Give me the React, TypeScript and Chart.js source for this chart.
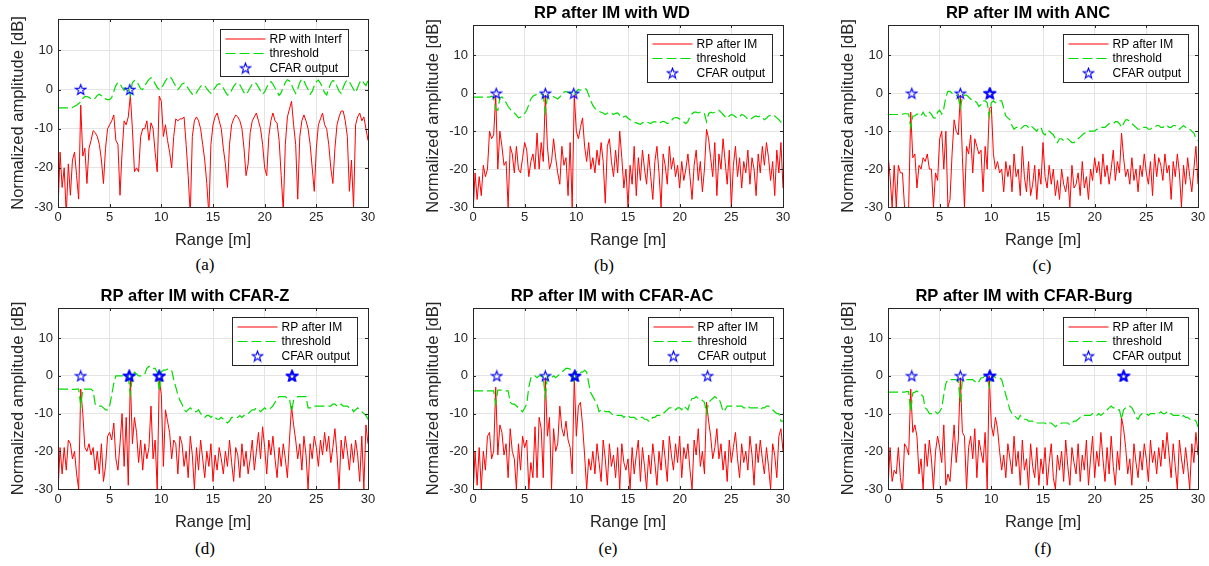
import React, { useEffect, useRef } from "react";
import { Chart, registerables } from "chart.js";

Chart.register(...registerables);

// ---------------- DATA ----------------
// Range sampling step of the profiles [m]; profiles run 0 .. 30 m
const RANGE_STEP = 0.2;

const RP_A = [
  -31, -16, -25, -20, -32, -19, -27, -18, -16, -22,
  -28, -4, -17, -15, -24, -15, -13, -10.5, -11, -12,
  -14, -18, -24, -15, -10, -9, -8, -6.5, -13, -14,
  -27, -16, -8, -9, -7, -1.5, -10, -21, -20, -21,
  -12, -10, -10, -8, -13, -8.5, -10, -16, -21, -1.7,
  -3, -12, -9, -13, -16, -20, -12, -7.5, -8, -7.5,
  -7.5, -7, -14, -22, -32, -12, -8, -7, -8, -10,
  -14, -18, -24, -32, -14, -9, -7, -6, -8, -10,
  -15, -19, -25, -14, -9, -7.5, -6.5, -7, -8, -10,
  -15, -22, -19, -11, -8, -7, -6, -8, -10, -14,
  -20, -22, -12, -8, -6, -8, -8.5, -13, -22, -31,
  -14, -7, -5, -3, -9, -14, -28, -12, -8, -6.5,
  -8, -10, -14, -20, -26, -15, -9, -7.5, -6, -9,
  -10, -14, -20, -24, -15, -9, -7, -5.5, -5.5, -8,
  -12, -26, -18, -30, -9, -7, -6, -8, -7, -10,
  -13,
];
const TH_A = [
  -4.7, -4.7, -4.7, -4.7, -4.7, -4.7, -4.7, -4.6, -4.3, -4.0,
  -3.6, -3.2, -2.3, -1.8, -1.8, -2.0, -2.4, -2.6, -2.2, -1.5,
  -1.2, -1.6, -2.2, -2.4, -2.6, -2.6, -2.0, -0.5, 1.0, 1.8,
  1.5, 0.5, -0.2, 0.8, 0.5, -1.5, 1.8, 2.3, 2.2, 1.2,
  0.2, 0.0, 1.0, 1.8, 2.6, 3.0, 2.5, 1.5, 0.5, 0.0,
  0.2, 1.2, 2.2, 3.0, 3.3, 2.8, 1.8, 0.8, 0.0, 0.6,
  1.4, 1.6, 1.2, 0.3, -0.5, -1.2, -1.5, -0.8, 0.0, 0.8,
  1.2, 1.0, 0.2, -0.5, -1.0, -0.3, 0.5, 1.2, 1.5, 1.2,
  0.4, -0.6, -1.4, -1.2, -0.2, 0.8, 1.5, 1.7, 1.2, 0.2,
  -0.8, -1.3, -0.5, 0.5, 1.3, 1.8, 1.5, 0.6, -0.4, -1.2,
  -0.6, 0.6, 1.6, 2.0, 1.4, 0.4, -0.6, -1.5, -0.8, 0.6,
  1.8, 2.5, 2.2, 1.2, 0.0, -1.0, 0.2, 1.8, 2.7, 2.2,
  1.0, 0.0, -1.2, -0.5, 1.0, 2.0, 2.4, 1.6, 0.4, -0.8,
  -1.4, 0.2, 1.6, 2.3, 2.0, 0.8, -0.4, -1.0, 0.5, 1.8,
  2.4, 2.0, 1.0, 0.0, -0.8, 0.5, 1.8, 2.4, 1.6, 1.0,
  2.3,
];

const RP_B = [
  -32, -21, -28, -22, -27, -19, -22, -20, -10, -12,
  -11, -0.5, -20, -10, -14, -19, -18, -30, -14, -16,
  -21, -14, -20, -21, -17, -13, -15, -22, -18, -16,
  -20, -10.5, -20, -13, -18, -0.5, -14, -20, -18, -12,
  -17, -21, -24, -14, -19, -17, -27, -13, -30, -0.5,
  -10, -12, -9, -6.5, -14, -18, -13, -20, -17, -21,
  -15, -19, -13, -18, -29, -14, -12, -18, -22, -15,
  -21, -10, -17, -25, -20, -30, -19, -24, -14, -27,
  -17, -23, -15, -20, -24, -16, -22, -28, -18, -14,
  -21, -30, -16, -19, -24, -14, -20, -17, -22, -19,
  -25, -18, -23, -20, -16, -22, -28, -19, -15, -23,
  -18, -26, -20, -9.5, -12, -17, -22, -13, -27, -16,
  -20, -12, -18, -24, -15, -30, -19, -14, -22, -17,
  -25, -18, -21, -15, -24, -17, -20, -27, -16, -21,
  -14, -19, -13, -17, -23, -18, -27, -15, -21, -13,
  -25,
];
const TH_B = [
  -1, -1, -1, -1, -1, -1, -1, -1, -1, -0.8,
  -1.2, -4.2, -4.5, -1.2, -1.0, -1.5, -2.5, -3.5, -4.2, -4.8,
  -5.2, -5.8, -6.5, -6.3, -5.8, -5.3, -4.5, -3.0, -1.5, -0.8,
  -0.5, -0.3, -0.2, -0.2, -0.5, -5.0, -1.0, -0.5, -0.6, -0.9,
  -1.2, -1.5, -1.0, -0.3, 0.3, 0.5, 0.2, 0.0, 0.3, -0.5,
  0.5, 1.0, 0.8, 1.0, 1.3, 1.0, -0.5, -2.0, -3.2, -4.0,
  -4.5, -4.8, -5.0, -5.2, -5.6, -5.3, -5.0, -5.2, -5.6, -5.3,
  -5.2, -5.8, -6.4, -6.2, -6.0, -6.6, -7.0, -7.2, -7.6, -7.8,
  -8.0, -8.2, -7.8, -7.6, -7.5, -7.8, -8.0, -7.6, -7.5, -7.7,
  -8.0, -7.6, -7.4, -7.6, -8.0, -7.8, -7.2, -6.6, -6.4, -6.5,
  -6.8, -7.2, -7.6, -8.0, -7.4, -6.2, -5.4, -5.0, -5.0, -5.2,
  -5.0, -5.0, -5.4, -7.5, -5.4, -5.0, -5.2, -5.0, -4.6, -4.5,
  -5.0, -5.6, -6.2, -6.6, -6.0, -5.6, -5.8, -6.2, -6.6, -6.2,
  -5.6, -5.8, -6.3, -6.8, -7.0, -6.6, -6.2, -6.0, -6.2, -6.0,
  -6.4, -7.0, -6.6, -6.0, -5.8, -5.6, -6.0, -6.5, -7.0, -7.6,
  -8.0,
];

const RP_C = [
  -16, -22, -30, -19, -30, -19, -21, -21, -30, -32,
  -30, -5, -17, -16, -25, -19, -20, -17, -18, -16,
  -20, -20, -30, -21, -23, -12, -10, -20, -10, -30,
  -28, -16, -7, -10, -11, -0.5, -17, -30, -14, -16,
  -11, -21, -12, -14, -16, -15, -26, -14, -20, -4,
  -3.5, -16, -20, -18, -21, -20, -26, -18, -22, -19,
  -26, -16, -22, -20, -27, -14, -22, -26, -18, -27,
  -24, -19, -28, -20, -24, -13, -22, -25, -19, -24,
  -20, -27, -23, -28, -20, -24, -26, -22, -30, -19,
  -25, -24, -21, -27, -18, -25, -22, -28, -20, -23,
  -17, -21, -18, -24, -16, -22, -19, -24, -20, -15,
  -23, -18, -21, -10.5, -17, -22, -20, -24, -17, -23,
  -20, -26, -19, -22, -16, -21, -24, -18, -27, -16,
  -22, -17, -19, -23, -16, -21, -19, -28, -18, -22,
  -16, -21, -30, -19, -24, -17, -22, -26, -20, -14,
  -24,
];
const TH_C = [
  -5.6, -5.6, -5.6, -5.6, -5.6, -5.6, -5.5, -5.5, -5.4, -5.4,
  -5.5, -9.0, -6.0, -6.0, -5.5, -5.5, -6.0, -5.0, -6.0, -6.0,
  -5.0, -5.5, -6.5, -6.5, -5.0, -4.5, -5.5, -4.0, -1.0, 0.5,
  0.5, 0.0, -0.5, -0.5, -1.0, -4.0, -1.0, -0.5, -0.5, -1.0,
  -1.5, -2.0, -2.0, -2.5, -3.5, -3.0, -2.0, -2.0, -2.5, -6.0,
  -2.5, -2.0, -2.5, -2.5, -2.0, -2.0, -4.0, -6.0, -6.5, -7.0,
  -8.5, -9.5, -9.0, -9.0, -9.5, -9.0, -8.5, -8.5, -9.0, -8.5,
  -9.0, -9.5, -10.0, -9.0, -9.0, -10.5, -11.0, -10.0, -10.0, -10.5,
  -11.0, -12.0, -13.0, -12.0, -12.0, -12.5, -12.0, -12.0, -12.5, -13.0,
  -13.0, -12.5, -12.0, -11.5, -11.0, -10.5, -10.5, -10.0, -10.0, -10.0,
  -10.0, -9.5, -9.5, -9.0, -9.0, -9.0, -8.5, -8.0, -8.0, -8.0,
  -7.5, -7.5, -8.0, -9.0, -8.0, -7.0, -7.0, -7.5, -8.0, -8.5,
  -9.0, -9.5, -9.5, -9.0, -9.0, -9.0, -9.5, -9.5, -9.0, -9.0,
  -8.5, -8.5, -9.0, -9.0, -8.5, -8.5, -9.0, -9.0, -8.5, -8.5,
  -9.0, -9.5, -9.0, -8.5, -9.0, -9.5, -9.5, -10.0, -10.5, -12.0,
  -12.5,
];

const RP_D = [
  -31, -19, -26, -19, -25, -17, -18, -22, -20, -26,
  -30, -3.5, -10, -19, -20, -18, -21, -19, -25, -20,
  -26, -18, -28, -24, -16, -15, -17, -12.5, -22, -25,
  -18, -10, -24, -11, -29, -0.5, -18, -11, -15, -23,
  -17, -25, -18, -22, -19, -8, -22, -17, -30, -1,
  -5, -24, -9, -12, -15, -22, -17, -18, -26, -16,
  -18, -24, -20, -27, -16, -21, -30, -19, -25, -17,
  -22, -27, -20, -24, -18, -28, -21, -25, -19, -22,
  -26, -20, -24, -17, -23, -28, -19, -21, -27, -18,
  -24, -20, -26, -22, -17, -25, -20, -15, -22, -13.5,
  -19, -26, -17, -21, -16, -22, -27, -19, -24, -18,
  -22, -27, -17, -8, -13, -17, -22, -18, -25, -16,
  -21, -30, -18, -22, -16, -19, -24, -17, -21, -15,
  -20, -16, -23, -19, -14, -21, -30, -17, -22, -16,
  -20, -25, -18, -23, -17, -21, -28, -16, -30, -13,
  -18,
];
const TH_D = [
  -3.5, -3.5, -3.5, -3.5, -3.5, -3.5, -3.5, -3.6, -3.6, -3.5,
  -3.5, -8.0, -3.5, -3.5, -3.5, -3.5, -3.5, -4.0, -7.5, -8.0,
  -8.0, -8.0, -8.5, -9.0, -9.0, -8.0, -5.0, -2.0, 0.0, 0.0,
  0.0, 0.0, 0.0, 0.0, 0.0, -5.0, 0.0, 1.0, 0.5, 0.0,
  0.0, 0.0, 0.5, 2.0, 2.5, 2.5, 2.0, 2.0, 1.0, -4.0,
  1.0, 1.5, 1.5, 1.8, 1.8, 1.5, -1.0, -3.0, -5.0, -6.5,
  -7.5, -9.0, -9.5, -9.0, -8.5, -9.0, -9.5, -9.5, -9.0, -10.0,
  -10.5, -11.0, -10.5, -10.5, -11.0, -10.5, -11.0, -11.5, -11.5, -11.0,
  -11.5, -12.0, -12.5, -12.0, -11.0, -11.0, -11.0, -11.0, -10.5, -11.0,
  -10.5, -10.5, -10.0, -9.5, -9.0, -9.0, -8.5, -9.0, -9.5, -9.0,
  -8.5, -9.0, -9.0, -8.5, -8.0, -7.0, -6.0, -5.5, -5.5, -5.5,
  -5.5, -6.0, -6.0, -9.5, -6.5, -6.0, -5.5, -5.5, -5.5, -5.5,
  -5.5, -8.5, -8.5, -8.5, -8.0, -8.0, -8.0, -8.0, -8.0, -8.0,
  -8.0, -8.0, -8.0, -7.5, -7.5, -8.0, -8.0, -7.5, -8.0, -8.0,
  -8.0, -8.5, -8.5, -9.5, -9.0, -8.5, -9.0, -9.5, -10.0, -10.5,
  -11.5,
];

const RP_E = [
  -32, -20, -29, -19, -30, -20, -25, -16, -15, -22,
  -20, -3, -21, -13, -15, -21, -18, -27, -14, -20,
  -22, -30, -18, -25, -16, -19, -17, -30, -23, -27,
  -13.5, -27, -11, -14, -27, -0.5, -16, -11, -30, -14,
  -20, -18, -8, -14, -16, -12, -17, -19, -26, -0.5,
  -16, -8, -7, -13, -21, -30, -22, -25, -20, -26,
  -18, -23, -28, -17, -22, -29, -18, -24, -21, -27,
  -19, -30, -18, -23, -25, -22, -30, -19, -26, -21,
  -17, -28, -19, -24, -30, -21, -26, -18, -23, -29,
  -20, -25, -17, -22, -28, -16, -21, -25, -18, -23,
  -16, -27, -19, -22, -18, -25, -30, -17, -21, -14,
  -24, -20, -26, -7, -12, -16, -22, -19, -14, -22,
  -18, -25, -20, -28, -17, -23, -19, -15, -22, -27,
  -18, -23, -20, -25, -16, -21, -29, -18, -23, -17,
  -22, -26, -19, -24, -30, -18, -21, -27, -16, -14,
  -20,
];
const TH_E = [
  -4, -4, -4, -4, -4, -4, -4, -4, -4, -4,
  -4, -7.5, -3.8, -3.8, -3.8, -3.8, -4, -4, -7, -7.5,
  -7.5, -8, -8.5, -9, -9.5, -8.5, -7.5, -3, -0.5, 0,
  0, -0.5, 0, 0, -0.5, -5.5, 0, 0, -0.5, 0,
  -0.5, 0, 0.5, 1, 1.5, 2, 2, 1.8, 1.5, -2,
  1, 1.5, 1, 1, 1.5, 1, -2, -4.5, -5.5, -6.5,
  -7.5, -9.5, -9, -9, -9.5, -9.5, -9.5, -10, -10.5, -10.5,
  -10.5, -10.5, -10.5, -11, -10.5, -10.5, -11, -11, -11, -11.5,
  -11.5, -11, -11, -11.5, -11.5, -12, -12, -11, -11, -10.5,
  -10.5, -10.5, -10, -9.5, -9, -8.5, -8.5, -9, -9, -8.5,
  -8.5, -9, -8, -8.5, -9, -7, -6, -6, -5.5, -6,
  -6, -6.5, -7, -10, -7, -6.5, -6, -5.5, -6, -6,
  -7.5, -9.5, -9, -8, -8, -8, -8, -8, -8, -8,
  -8, -8.5, -8.5, -8, -8.5, -8.5, -8.5, -8.5, -8.5, -9,
  -8.5, -8.5, -8, -8, -8.5, -9, -9.5, -10, -10, -12,
  -12,
];

const RP_F = [
  -30, -19, -28, -25, -26, -19, -27, -31, -18, -19,
  -21, -3.5, -15, -13, -16, -26, -22, -30, -18, -24,
  -17, -22, -30, -20, -16, -19, -23, -13, -29, -26,
  -28, -20, -13, -23, -17, -0.5, -15, -16, -30, -19,
  -16, -22, -14, -27, -17, -20, -23, -15, -30, 0,
  -13, -16, -11, -14, -20, -25, -21, -27, -18, -22,
  -26, -16, -24, -20, -29, -17, -25, -22, -30, -18,
  -24, -27, -19, -29, -22, -26, -19, -29, -23, -18,
  -27, -30, -21, -25, -20, -28, -17, -24, -29, -19,
  -23, -26, -18, -28, -21, -25, -17, -29, -22, -16,
  -27, -20, -24, -15, -22, -28, -19, -26, -16, -24,
  -29, -20, -25, -11, -14, -19, -26, -22, -29, -18,
  -23, -27, -20, -25, -18, -22, -28, -17, -23, -20,
  -26, -19, -24, -17, -22, -15, -21, -27, -18, -24,
  -30, -17, -22, -26, -19, -24, -30, -18, -23, -15,
  -21,
];
const TH_F = [
  -4.3, -4.3, -4.3, -4.3, -4.3, -4.3, -4.3, -4.3, -4.3, -4.2,
  -4.2, -9.5, -4.5, -4.3, -4.0, -4.5, -5.0, -5.5, -8.5, -9.0,
  -10, -10, -10, -9.5, -10, -9.5, -8.5, -5, -2, -1,
  -1, -1, -1, -1, -1.5, -7, -1, -1, -1, -1,
  -1, -1, -1.5, -2, -1.5, -0.5, -0.5, 0, -0.5, -3,
  -0.5, 0, -0.5, -0.5, -0.5, -1, -3, -5, -7, -9,
  -10, -10.5, -11, -11.5, -10.5, -11, -11.5, -11.5, -12, -12,
  -12, -12.5, -12.5, -12.5, -12.5, -12.5, -12.5, -13, -12.5, -12.5,
  -13, -13.5, -13, -13, -12.5, -12.5, -12.5, -12.5, -13, -12.5,
  -12, -12, -11.5, -11, -11, -10.5, -10.5, -10.5, -10.5, -10,
  -10.5, -10.5, -10, -10.5, -10, -9.5, -9, -8.5, -8, -8.5,
  -8.5, -9, -9, -11.5, -9, -8.5, -8, -8, -8.5, -9.5,
  -11, -11.5, -10.5, -10, -10, -10, -10.5, -10, -10, -10,
  -10, -10, -9.5, -10, -10, -9.5, -10, -10, -10.5, -10.5,
  -10.5, -10.5, -11, -10.5, -11, -11, -11.5, -11.5, -11.5, -12,
  -13.5,
];

// CFAR detections: range [m] and marker level [dB]
const CFAR_A_X = [2.2, 6.95];
const CFAR_A_Y = [0, 0];
const CFAR_B_X = [2.25, 7.0, 9.75];
const CFAR_B_Y = [0, 0, 0];
const CFAR_C_X = [2.3, 7.0, 9.8, 9.85, 9.9];
const CFAR_C_Y = [0, 0, 0, 0, 0];
const CFAR_D_X = [2.2, 6.85, 6.9, 6.95, 9.75, 9.8, 9.85, 22.6, 22.65, 22.7];
const CFAR_D_Y = [0, 0, 0, 0, 0, 0, 0, 0, 0, 0];
const CFAR_E_X = [2.3, 7.0, 9.8, 9.85, 9.9, 22.7];
const CFAR_E_Y = [0, 0, 0, 0, 0, 0];
const CFAR_F_X = [2.3, 7.0, 9.8, 9.85, 9.9, 22.75, 22.8, 22.85];
const CFAR_F_Y = [0, 0, 0, 0, 0, 0, 0, 0];

const TITLES = [
  "",
  "RP after IM with WD",
  "RP after IM with ANC",
  "RP after IM with CFAR-Z",
  "RP after IM with CFAR-AC",
  "RP after IM with CFAR-Burg",
];
const LEGEND_INTERF = ["RP with Interf", "threshold", "CFAR output"];
const LEGEND_IM = ["RP after IM", "threshold", "CFAR output"];
const CAPTIONS = ["(a)", "(b)", "(c)", "(d)", "(e)", "(f)"];
const X_TITLE = "Range [m]";
const Y_TITLE = "Normalized amplitude [dB]";
const X_MIN = 0, X_MAX = 30, X_STEP = 5;
const Y_MIN = -30, Y_MAX = 18, Y_STEP = 10;

// ---------------- LAYOUT / STYLE ----------------
const SANS = '"Liberation Sans", Arial, Helvetica, sans-serif';
const AXIS_COLOR = "#262626";
const RED = "#ff0000";
const GREEN = "#00dd00";
const BLUE = "#0000ff";
const DASH = [10, 4];

type Panel = {
  title: string;
  rp: number[];
  th: number[];
  cx: number[];
  cy: number[];
  legend: string[];
  caption: string;
  left: number;
  top: number;
  height: number;
  padTop: number;
  titleCx: number;
  titleCy: number;
  legRight: number;
  legTop: number;
  legH: number;
  capCx: number;
  capCy: number;
};

const CANVAS_W = 378;
const Y_AXIS_W = 58;
const X_AXIS_H = 43;
const PAD_RIGHT = 10;

const PANELS: Panel[] = [
  { title: TITLES[0], rp: RP_A, th: TH_A, cx: CFAR_A_X, cy: CFAR_A_Y, legend: LEGEND_INTERF, caption: CAPTIONS[0],
    left: 0, top: 0, height: 250, padTop: 19, titleCx: 0, titleCy: 0, legRight: 20, legTop: 10, legH: 47, capCx: 205, capCy: 265 },
  { title: TITLES[1], rp: RP_B, th: TH_B, cx: CFAR_B_X, cy: CFAR_B_Y, legend: LEGEND_IM, caption: CAPTIONS[1],
    left: 415, top: 0, height: 250, padTop: 25, titleCx: 612, titleCy: 13, legRight: 11, legTop: 9, legH: 48, capCx: 604, capCy: 266 },
  { title: TITLES[2], rp: RP_C, th: TH_C, cx: CFAR_C_X, cy: CFAR_C_Y, legend: LEGEND_IM, caption: CAPTIONS[2],
    left: 830, top: 0, height: 250, padTop: 25, titleCx: 1028, titleCy: 13, legRight: 10, legTop: 9, legH: 48, capCx: 1042, capCy: 266 },
  { title: TITLES[3], rp: RP_D, th: TH_D, cx: CFAR_D_X, cy: CFAR_D_Y, legend: LEGEND_IM, caption: CAPTIONS[3],
    left: 0, top: 285, height: 247, padTop: 23, titleCx: 195, titleCy: 296.5, legRight: 11, legTop: 9, legH: 48, capCx: 205, capCy: 549 },
  { title: TITLES[4], rp: RP_E, th: TH_E, cx: CFAR_E_X, cy: CFAR_E_Y, legend: LEGEND_IM, caption: CAPTIONS[4],
    left: 415, top: 285, height: 247, padTop: 23, titleCx: 612, titleCy: 296.5, legRight: 10, legTop: 9, legH: 48, capCx: 608, capCy: 549 },
  { title: TITLES[5], rp: RP_F, th: TH_F, cx: CFAR_F_X, cy: CFAR_F_Y, legend: LEGEND_IM, caption: CAPTIONS[5],
    left: 830, top: 285, height: 247, padTop: 23, titleCx: 1024, titleCy: 296.5, legRight: 10, legTop: 9, legH: 48, capCx: 1043, capCy: 549 },
];

function makeStar(): HTMLCanvasElement {
  const c = document.createElement("canvas");
  c.width = 13;
  c.height = 13;
  const g = c.getContext("2d")!;
  g.beginPath();
  for (let i = 0; i < 10; i++) {
    const r = i % 2 === 0 ? 5.4 : 2.2;
    const a = -Math.PI / 2 + (i * Math.PI) / 5;
    const x = 6.5 + r * Math.cos(a);
    const y = 7 + r * Math.sin(a);
    if (i === 0) g.moveTo(x, y);
    else g.lineTo(x, y);
  }
  g.closePath();
  g.strokeStyle = BLUE;
  g.lineWidth = 1.1;
  g.stroke();
  return c;
}

function framePlugin(p: Panel, star: HTMLCanvasElement) {
  return {
    id: "matlabFrame",
    afterDraw(chart: any) {
      const ctx: CanvasRenderingContext2D = chart.ctx;
      const ca = chart.chartArea;
      const xs = chart.scales.x;
      const ys = chart.scales.y;
      ctx.save();
      // inner tick marks
      ctx.strokeStyle = AXIS_COLOR;
      ctx.lineWidth = 1;
      ctx.beginPath();
      xs.ticks.forEach((t: any) => {
        const px = Math.round(xs.getPixelForValue(t.value)) + 0.5;
        ctx.moveTo(px, ca.bottom);
        ctx.lineTo(px, ca.bottom - 3);
        ctx.moveTo(px, ca.top);
        ctx.lineTo(px, ca.top + 3);
      });
      ys.ticks.forEach((t: any) => {
        const py = Math.round(ys.getPixelForValue(t.value)) + 0.5;
        ctx.moveTo(ca.left, py);
        ctx.lineTo(ca.left + 3, py);
        ctx.moveTo(ca.right, py);
        ctx.lineTo(ca.right - 3, py);
      });
      ctx.stroke();
      // box
      ctx.strokeRect(
        Math.round(ca.left) + 0.5,
        Math.round(ca.top) + 0.5,
        Math.round(ca.right - ca.left),
        Math.round(ca.bottom - ca.top)
      );

      // legend
      ctx.font = "12px " + SANS;
      const tw = Math.max(...p.legend.map((s) => ctx.measureText(s).width));
      const w = Math.round(49 + tw + 7);
      const x0 = Math.round(ca.right - p.legRight - w) + 0.5;
      const y0 = Math.round(ca.top + p.legTop) + 0.5;
      ctx.fillStyle = "#ffffff";
      ctx.fillRect(x0, y0, w, p.legH);
      ctx.strokeStyle = AXIS_COLOR;
      ctx.lineWidth = 1;
      ctx.strokeRect(x0, y0, w, p.legH);
      const rows = [y0 + 9.5, y0 + 24, y0 + 38.5];
      ctx.lineWidth = 1.2;
      ctx.strokeStyle = RED;
      ctx.beginPath();
      ctx.moveTo(x0 + 5, rows[0]);
      ctx.lineTo(x0 + 45, rows[0]);
      ctx.stroke();
      ctx.strokeStyle = GREEN;
      ctx.setLineDash(DASH);
      ctx.beginPath();
      ctx.moveTo(x0 + 5, rows[1]);
      ctx.lineTo(x0 + 45, rows[1]);
      ctx.stroke();
      ctx.setLineDash([]);
      ctx.drawImage(star, x0 + 25 - star.width / 2, rows[2] - star.height / 2);
      ctx.fillStyle = "#000000";
      ctx.textAlign = "left";
      ctx.textBaseline = "middle";
      p.legend.forEach((s, i) => ctx.fillText(s, x0 + 49, rows[i] + 0.5));

      // title
      if (p.title) {
        ctx.font = "bold 16.5px " + SANS;
        ctx.textAlign = "center";
        ctx.textBaseline = "middle";
        ctx.fillStyle = "#000000";
        ctx.fillText(p.title, p.titleCx - p.left, p.titleCy - p.top);
      }
      ctx.restore();
    },
  };
}

function ChartPanel({ p }: { p: Panel }) {
  const ref = useRef<HTMLCanvasElement>(null);
  useEffect(() => {
    const canvas = ref.current;
    if (!canvas) return;
    const star = makeStar();
    const toPts = (vals: number[]) =>
      vals.map((v, i) => ({ x: Math.round(i * RANGE_STEP * 100) / 100, y: v }));
    const tickFont = { family: SANS, size: 13 };
    const titleFont = { family: SANS, size: 16.5 };
    const chart = new Chart(canvas, {
      type: "scatter",
      data: {
        datasets: [
          {
            label: p.legend[2],
            data: p.cx.map((x, i) => ({ x, y: p.cy[i] })),
            pointStyle: star as any,
            pointRadius: 5,
            showLine: false,
            order: 0,
          } as any,
          {
            label: p.legend[1],
            data: toPts(p.th),
            showLine: true,
            borderColor: GREEN,
            borderWidth: 1.2,
            borderDash: DASH,
            pointRadius: 0,
            tension: 0,
            order: 1,
            clip: 0,
          } as any,
          {
            label: p.legend[0],
            data: toPts(p.rp),
            showLine: true,
            borderColor: RED,
            borderWidth: 1,
            pointRadius: 0,
            tension: 0,
            order: 2,
            clip: 0,
          } as any,
        ],
      },
      options: {
        animation: false,
        responsive: false,
        events: [],
        layout: {
          autoPadding: false,
          padding: { top: p.padTop, right: PAD_RIGHT, left: 0, bottom: 0 },
        } as any,
        plugins: {
          legend: { display: false },
          tooltip: { enabled: false },
          title: { display: false },
        },
        scales: {
          x: {
            type: "linear",
            min: X_MIN,
            max: X_MAX,
            ticks: {
              stepSize: X_STEP,
              padding: 3,
              font: tickFont,
              color: AXIS_COLOR,
              maxRotation: 0,
              autoSkip: false,
            },
            grid: { color: "#e4e4e4", drawTicks: false, lineWidth: 1 },
            border: { display: false },
            title: {
              display: true,
              text: X_TITLE,
              font: titleFont,
              color: AXIS_COLOR,
              padding: { top: 0, bottom: 0 },
            },
            afterFit: (s: any) => {
              s.height = X_AXIS_H;
              s.paddingLeft = 0;
              s.paddingRight = 0;
              s.paddingTop = 0;
              s.paddingBottom = 0;
            },
          },
          y: {
            type: "linear",
            min: Y_MIN,
            max: Y_MAX,
            ticks: {
              stepSize: Y_STEP,
              padding: 5,
              font: tickFont,
              color: AXIS_COLOR,
            },
            grid: { color: "#e4e4e4", drawTicks: false, lineWidth: 1 },
            border: { display: false },
            title: {
              display: true,
              text: Y_TITLE,
              font: titleFont,
              color: AXIS_COLOR,
              padding: { top: 9, bottom: 0 },
            },
            afterBuildTicks: (s: any) => {
              s.ticks = s.ticks.filter((t: any) => Math.abs(t.value % Y_STEP) < 1e-9);
            },
            afterFit: (s: any) => {
              s.width = Y_AXIS_W;
              s.paddingLeft = 0;
              s.paddingRight = 0;
              s.paddingTop = 0;
              s.paddingBottom = 0;
            },
          },
        },
      } as any,
      plugins: [framePlugin(p, star)],
    });
    return () => chart.destroy();
  }, [p]);
  return (
    <canvas
      ref={ref}
      width={CANVAS_W}
      height={p.height}
      style={{
        position: "absolute",
        left: p.left,
        top: p.top,
        width: CANVAS_W,
        height: p.height,
      }}
    />
  );
}

export default function App() {
  return (
    <div
      style={{
        position: "absolute",
        left: 0,
        top: 0,
        width: 1209,
        height: 566,
        background: "#ffffff",
        overflow: "hidden",
      }}
    >
      {PANELS.map((p, i) => (
        <React.Fragment key={i}>
          <ChartPanel p={p} />
          <div
            style={{
              position: "absolute",
              left: p.capCx - 30,
              top: p.capCy - 11,
              width: 60,
              height: 22,
              lineHeight: "22px",
              textAlign: "center",
              fontFamily: '"Liberation Serif", "Times New Roman", serif',
              fontSize: 17,
              color: "#000",
            }}
          >
            {p.caption}
          </div>
        </React.Fragment>
      ))}
    </div>
  );
}
